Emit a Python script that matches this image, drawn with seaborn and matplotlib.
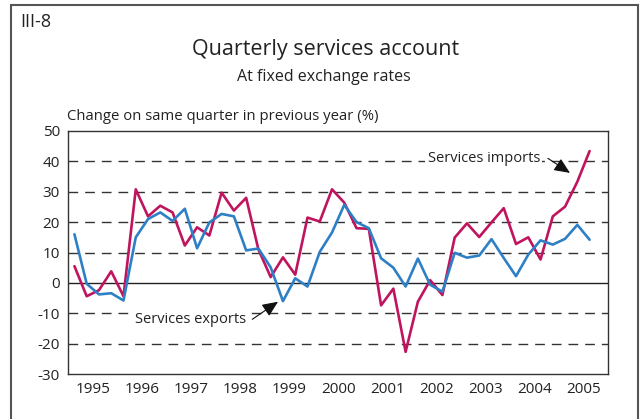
import numpy as np
import pandas as pd
import matplotlib
matplotlib.use("Agg")
import matplotlib.pyplot as plt
import seaborn as sns
from matplotlib.patches import Rectangle

years = [str(y) for y in range(1995, 2006)]

imports = [5.5, -4.4, -2.4, 3.8, -4.4, 30.8, 21.9, 25.4, 23.2, 12.3, 18.3, 15.6,
           29.7, 23.8, 28.0, 11.0, 1.9, 8.4, 2.7, 21.5, 20.2, 30.8, 26.4, 18.0,
           17.8, -7.4, -1.9, -22.7, -6.2, 0.9, -4.0, 14.9, 19.6, 15.1, 19.9, 24.6,
           12.8, 15.0, 7.7, 21.9, 25.1, 33.3, 43.4]
exports = [16.0, -0.3, -3.8, -3.4, -5.8, 15.0, 21.0, 23.2, 20.4, 24.4, 11.4, 19.9,
           22.7, 21.9, 10.7, 11.3, 5.1, -6.0, 1.5, -1.2, 10.2, 16.6, 25.7, 20.0,
           18.0, 8.1, 5.0, -1.2, 8.0, -0.6, -2.9, 9.9, 8.3, 9.0, 14.4, 8.2,
           2.2, 9.3, 14.0, 12.6, 14.5, 19.1, 14.2]

q = np.arange(len(imports))
df = pd.DataFrame({
    "q": np.concatenate([q, q]),
    "value": imports + exports,
    "series": ["Services imports"] * len(imports) + ["Services exports"] * len(exports),
})

sns.set_style("white")
plt.rcParams["font.family"] = ["Open Sans", "DejaVu Sans"]

fig = plt.figure(figsize=(6.4, 4.19), dpi=100)
ax = fig.add_axes([68.3 / 640, 1 - 374 / 419, (608 - 68.3) / 640, (374 - 131) / 419])

palette = {"Services imports": "#C0145E", "Services exports": "#2E80C6"}
sns.lineplot(data=df, x="q", y="value", hue="series", palette=palette,
             linewidth=1.9, ax=ax, legend=False, zorder=3)

ax.set_xlim(-0.5, 43.5)
ax.set_ylim(-30, 50)
ax.set_yticks(range(-30, 51, 10))
ax.set_yticklabels([str(v) for v in range(-30, 51, 10)], fontsize=11, color="#222222")
for v in [-20, -10, 10, 20, 30, 40]:
    ax.axhline(v, color="#333333", linewidth=1.0, linestyle=(0, (7, 5)), zorder=1)
ax.axhline(0, color="#222222", linewidth=1.0, zorder=2)

boundaries = [-0.5 + 4 * k for k in range(12)]
centers = [1.5 + 4 * k for k in range(11)]
ax.set_xticks(boundaries)
ax.set_xticklabels([""] * len(boundaries))
ax.set_xticks(centers, minor=True)
ax.set_xticklabels(years, minor=True, fontsize=11, color="#222222")
ax.tick_params(axis="x", which="major", direction="out", length=7, width=1.0, color="#333333")
ax.tick_params(axis="x", which="minor", length=0, pad=6)
ax.tick_params(axis="y", length=0, pad=6)
ax.set_xlabel("")
ax.set_ylabel("")
for s in ax.spines.values():
    s.set_visible(True)
    s.set_color("#333333")
    s.set_linewidth(1.0)

fig.text(20 / 640, 1 - 22 / 419, "III-8", fontsize=13, color="#222222", va="center", ha="left")
fig.text(326 / 640, 1 - 50 / 419, "Quarterly services account", fontsize=15.5,
         color="#222222", ha="center", va="center")
fig.text(324 / 640, 1 - 77 / 419, "At fixed exchange rates", fontsize=11.5,
         color="#222222", ha="center", va="center")
fig.text(67 / 640, 1 - 117 / 419, "Change on same quarter in previous year (%)",
         fontsize=10.7, color="#222222", ha="left", va="center")

bbox = dict(boxstyle="square,pad=0.15", facecolor="white", edgecolor="none")
arrow = dict(arrowstyle="-|>,head_length=0.8,head_width=0.35", color="#111111",
             lw=0.8, mutation_scale=12, shrinkA=0, shrinkB=0)

ax.text(37.95, 40.8, "Services imports", fontsize=10.5, color="#222222",
        ha="right", va="center", bbox=bbox, zorder=4)
ax.annotate("", xy=(40.4, 36.2), xytext=(38.6, 41.0), arrowprops=arrow, zorder=4)

ax.text(14.0, -12.2, "Services exports", fontsize=10.5, color="#222222",
        ha="right", va="center", bbox=bbox, zorder=4)
ax.annotate("", xy=(16.6, -6.2), xytext=(14.5, -12.0), arrowprops=arrow, zorder=4)

fig.patches.append(Rectangle((11 / 640, -0.05), (638 - 11) / 640, 1.05 - 5 / 419,
                             transform=fig.transFigure, fill=False,
                             edgecolor="#555555", linewidth=1.5))

fig.savefig("out.png", dpi=100)
